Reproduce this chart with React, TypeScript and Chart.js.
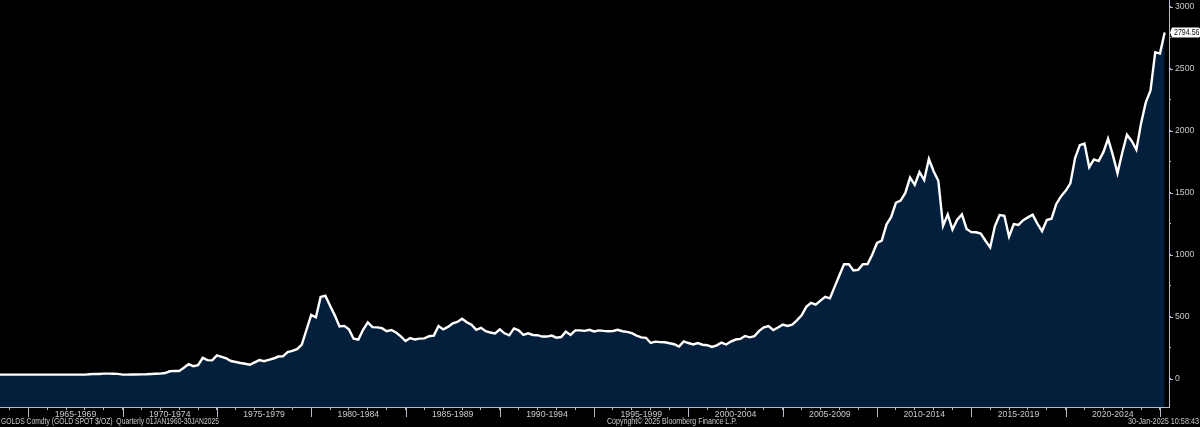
import React, { useEffect, useRef } from "react";
import Chart from "chart.js/auto";

// Gold spot, quarter-end closes
const gold1960s = [
  35, 35, 35, 35, 35, 35, 35, 35, 35, 35, 35, 35, 35, 35, 35, 35, 35, 35, 35,
  38, 41, 40, 43, 43, 42, 41, 35,
];
const gold1970s = [
  35, 36, 36, 37, 38, 40, 42, 43, 48, 62, 65, 64, 90, 120, 103, 112, 170, 152,
  150, 190, 178, 166, 145, 137, 129, 123, 115, 134, 152, 143, 154, 165, 181,
  183, 217, 226, 240, 277, 397, 516,
];
const gold1980s = [
  497, 661, 672, 590, 513, 423, 428, 400, 325, 318, 397, 456, 418, 416, 410,
  385, 395, 375, 343, 306, 330, 318, 325, 327, 345, 350, 427, 400, 420, 448,
  460, 486, 458, 437, 397, 412, 385, 375, 367, 401,
];
const gold1990s = [
  368, 352, 408, 392, 356, 368, 355, 353, 342, 342, 350, 333, 338, 382, 355,
  392, 392, 388, 396, 383, 392, 388, 385, 387, 397, 385, 380, 369, 350, 335,
  332, 290, 301, 297, 296, 288, 280, 261, 303, 290,
];
const gold2000s = [
  278, 290, 276, 272, 258, 271, 293, 278, 302, 318, 323, 347, 336, 346, 388,
  416, 427, 394, 415, 438, 428, 437, 473, 513, 582, 614, 599, 632, 663, 650,
  743, 834, 925, 926, 875, 880, 925, 927, 1004, 1097,
];
const gold2010s = [
  1115, 1245, 1307, 1421, 1439, 1500, 1624, 1565, 1669, 1604, 1774, 1675, 1598,
  1235, 1327, 1205, 1284, 1327, 1210, 1184, 1183, 1172, 1115, 1061, 1233, 1322,
  1316, 1148, 1249, 1242, 1280, 1303, 1325, 1253, 1192, 1282, 1292, 1409, 1472,
  1517,
];
const gold2020s = [
  1577, 1781, 1886, 1898, 1708, 1770, 1757, 1829, 1937, 1807, 1660, 1824, 1969,
  1919, 1849, 2063, 2230, 2327, 2635, 2624, 2794.56,
];

const goldValues = [
  ...gold1960s,
  ...gold1970s,
  ...gold1980s,
  ...gold1990s,
  ...gold2000s,
  ...gold2010s,
  ...gold2020s,
];

const firstQuarter = 1963.5;
const yTicks = [0, 250, 500, 750, 1000, 1250, 1500, 1750, 2000, 2250, 2500, 2750, 3000];
const periodLabels = [
  "1965-1969",
  "1970-1974",
  "1975-1979",
  "1980-1984",
  "1985-1989",
  "1990-1994",
  "1995-1999",
  "2000-2004",
  "2005-2009",
  "2010-2014",
  "2015-2019",
  "2020-2024",
];
const tickYears = Array.from({ length: 62 }, (_, i) => 1964 + i);

const securityText = "GOLDS Comdty (GOLD SPOT $/OZ)  Quarterly 01JAN1960-30JAN2025";
const copyrightText = "Copyright\u00a9 2025 Bloomberg Finance L.P.";
const stampText = "30-Jan-2025 10:58:43";

const FAMILY = "'Liberation Sans Narrow', 'Liberation Sans'";
const FONT = `8.7px ${FAMILY}`;
const TEXT = "#c9c9c9";
const AXIS = "#b4bcc8";

// longer ticks, last value tag and the footer line
const terminalPlugin = {
  id: "terminal",
  afterDraw(chart: any) {
    const { ctx, scales } = chart;
    const { x, y } = scales;
    ctx.save();
    ctx.strokeStyle = AXIS;
    ctx.lineWidth = 1;
    x.ticks.forEach((t: any) => {
      if (t.value % 5 !== 0) return;
      const px = Math.round(x.getPixelForValue(t.value)) + 0.5;
      ctx.beginPath();
      ctx.moveTo(px, y.bottom);
      ctx.lineTo(px, y.bottom + 10);
      ctx.stroke();
    });
    y.ticks.forEach((t: any) => {
      if (t.value % 500 !== 0) return;
      const py = Math.round(y.getPixelForValue(t.value)) + 0.5;
      ctx.beginPath();
      ctx.moveTo(x.right, py);
      ctx.lineTo(x.right + 4, py);
      ctx.stroke();
    });

    const last = goldValues[goldValues.length - 1];
    const tagY = y.getPixelForValue(last);
    ctx.fillStyle = "#ffffff";
    ctx.beginPath();
    ctx.moveTo(x.right + 1, tagY);
    ctx.lineTo(x.right + 3, tagY - 5);
    ctx.lineTo(1199, tagY - 5);
    ctx.lineTo(1200, tagY - 4);
    ctx.lineTo(1200, tagY + 4);
    ctx.lineTo(1199, tagY + 5);
    ctx.lineTo(x.right + 3, tagY + 5);
    ctx.closePath();
    ctx.fill();
    ctx.font = FONT;
    ctx.fillStyle = "#111111";
    ctx.textBaseline = "middle";
    ctx.textAlign = "right";
    ctx.fillText(last.toFixed(2), 1199.5, tagY + 0.5, 25.5);

    ctx.fillStyle = TEXT;
    ctx.textAlign = "left";
    ctx.fillText(securityText, 1, 422, 218);
    ctx.textAlign = "center";
    ctx.fillText(copyrightText, 672, 422, 130);
    ctx.textAlign = "right";
    ctx.fillText(stampText, 1199, 422, 71);
    ctx.restore();
  },
};

const App: React.FC = () => {
  const chartRef = useRef<null | HTMLCanvasElement>(null);

  useEffect(() => {
    if (!chartRef.current) return;
    document.body.style.margin = "0";
    document.body.style.background = "#000000";

    const chartInstance = new Chart(chartRef.current, {
      type: "line",
      data: {
        datasets: [
          {
            label: "GOLDS Comdty",
            data: goldValues.map((v, i) => ({ x: firstQuarter + i / 4, y: v })),
            borderColor: "#ffffff",
            borderWidth: 2.4,
            backgroundColor: "#041f3c",
            fill: "start",
            pointRadius: 0,
            tension: 0,
            borderJoinStyle: "miter",
          },
        ],
      },
      plugins: [terminalPlugin],
      options: {
        responsive: false,
        animation: false,
        layout: { padding: 0 },
        plugins: {
          legend: { display: false },
          tooltip: { enabled: false },
        },
        scales: {
          x: {
            type: "linear",
            min: 1963.5,
            max: 2025.48,
            afterBuildTicks: (scale: any) => {
              const mids = periodLabels.map((p) => ({ value: Number(p.slice(0, 4)) + 2.5 }));
              scale.ticks = [...tickYears.map((value) => ({ value })), ...mids].sort(
                (a, b) => a.value - b.value
              );
            },
            afterFit: (scale: any) => {
              scale.height = 20;
              scale.paddingLeft = 0;
              scale.paddingRight = 0;
            },
            border: { display: true, color: AXIS, width: 1 },
            grid: {
              drawOnChartArea: false,
              tickLength: 3,
              tickColor: (c: any) => (c.tick && c.tick.value % 1 !== 0 ? "transparent" : AXIS),
            },
            ticks: {
              autoSkip: false,
              maxRotation: 0,
              minRotation: 0,
              padding: -1,
              color: TEXT,
              font: { family: FAMILY, size: 8.7 },
              callback: (value: any) => {
                const found = periodLabels.find((p) => Number(p.slice(0, 4)) + 2.5 === value);
                return found ?? "";
              },
            },
          },
          y: {
            position: "right",
            min: -226,
            max: 3056,
            afterBuildTicks: (scale: any) => {
              scale.ticks = yTicks.map((value) => ({ value }));
            },
            afterFit: (scale: any) => {
              scale.width = 31;
              scale.paddingTop = 0;
              scale.paddingBottom = 0;
            },
            border: { display: true, color: AXIS, width: 1 },
            grid: { drawOnChartArea: false, tickLength: 2, tickColor: AXIS },
            ticks: {
              autoSkip: false,
              padding: 4,
              color: TEXT,
              font: { family: FAMILY, size: 8.7 },
              callback: (value: any) => (value % 500 === 0 ? String(value) : ""),
            },
          },
        },
      },
    } as any);

    return () => {
      chartInstance.destroy();
    };
  }, []);

  return (
    <div style={{ width: 1200, height: 427, background: "#000000", overflow: "hidden" }}>
      <canvas ref={chartRef} width={1200} height={427} style={{ display: "block" }} />
    </div>
  );
};

export default App;
